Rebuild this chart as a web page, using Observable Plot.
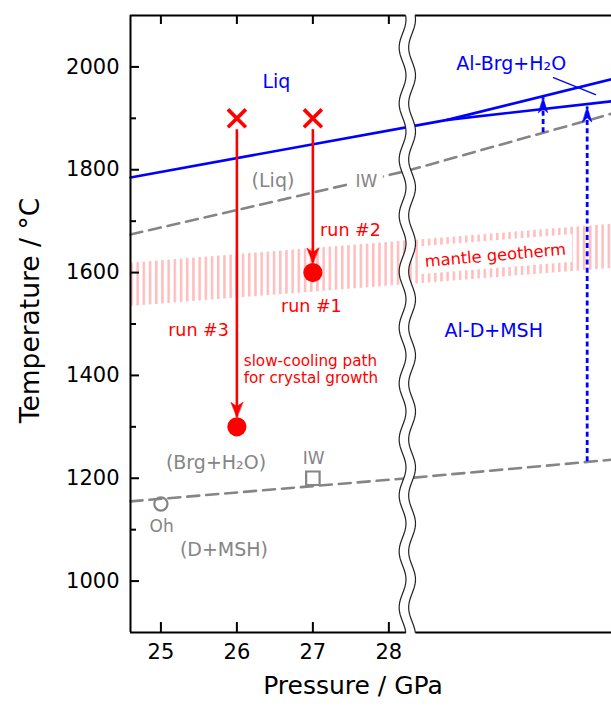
<!DOCTYPE html>
<html><head><meta charset="utf-8">
<script src="https://cdn.jsdelivr.net/npm/d3@7"></script>
<script src="https://cdn.jsdelivr.net/npm/@observablehq/plot@0.6"></script>
<style>html,body{margin:0;padding:0;background:#fff;} #chart svg{display:block;}</style>
</head><body><div id="chart"></div>
<script>
// ---------- axes ----------
const xTicks = [25, 26, 27, 28];
const yMajorTicks = [1000, 1200, 1400, 1600, 1800, 2000];
const yMinorTicks = [1100, 1300, 1500, 1700, 1900];
const pressureRange = [24.6, 30.93];
const temperatureRange = [900, 2100];
const axisBreakP = 28.243;
const xTitle = "Pressure / GPa";
const yTitle = "Temperature / °C";

// ---------- phase boundaries (P in GPa, T in °C) ----------
const liqLowerP = [24.6, 28.77, 30.93];
const liqLowerT = [1785, 1897, 1933];
const liqUpperP = [28.77, 30.93];
const liqUpperT = [1897, 1976];
const iwUpperP = [24.6, 28.243, 30.93];
const iwUpperT = [1674, 1798, 1909];
const iwLowerP = [24.6, 28.243, 30.93];
const iwLowerT = [1155, 1200, 1236];

// ---------- mantle geotherm band ----------
const geothermP = [24.6, 30.93];
const geothermLow = [1534, 1608];
const geothermHigh = [1618, 1694];
const geoLabelBoxP = [28.39, 30.42];
const geoLabelBoxLow = [1596, 1620];
const geoLabelBoxHigh = [1650, 1674];

// ---------- experimental runs ----------
const runP = [26, 27];
const runStartT = [1900, 1900];
const runPathTopT = [1878, 1878];
const runEndT = [1300, 1600];
const runHeadTipT = [1318.5, 1618.5];

// ---------- blue stability arrows ----------
const stabArrowP = [30.03, 30.61];
const stabArrowFromT = [1872, 1232];
const stabArrowToT = [1940, 1922];
const leaderP = [30.166, 30.72];
const leaderT = [1979, 1946];

// ---------- reference buffers ----------
const ohP = [25], ohT = [1150];
const iwRefP = [27], iwRefT = [1200];

// ---------- labels ----------
const blueLabels = ["Liq", "Al-Brg+H₂O", "Al-D+MSH"];
const blueLabelP = [26.52, 29.61, 29.38];
const blueLabelT = [1970, 2006, 1487];
const grayBigLabels = ["(Liq)", "(Brg+H₂O)", "(D+MSH)"];
const grayBigP = [26.475, 25.725, 25.83];
const grayBigT = [1778, 1230, 1060];
const graySmallLabels = ["IW", "Oh"];
const graySmallP = [27.01, 25.01];
const graySmallT = [1238, 1106];
const iwLineLabel = ["IW"], iwLineP = [27.705], iwLineT = [1777];
const runLabels = ["run #2", "run #1", "run #3"];
const runLabelP = [27.495, 26.98, 25.495];
const runLabelT = [1683, 1535, 1487];
const noteText = ["slow-cooling path\nfor crystal growth"];
const noteP = [26.09];
const noteT = [1413];
const geoLabel = ["mantle geotherm"], geoLabelP = [29.40], geoLabelT = [1633];

// ---------- colours ----------
const RED = "#ff0000", BLUE = "#0000ff", GRAY = "#858585";
const FONT = "'DejaVu Sans', 'Liberation Sans', Arial, sans-serif";

const zip = (P, T) => P.map((p, i) => ({P: p, T: T[i]}));
const labelRows = (txt, P, T) => txt.map((t, i) => ({text: t, P: P[i], T: T[i]}));

const geoRows = geothermP.map((p, i) => ({P: p, lo: geothermLow[i], hi: geothermHigh[i]}));
const geoBoxRows = geoLabelBoxP.map((p, i) => ({P: p, lo: geoLabelBoxLow[i], hi: geoLabelBoxHigh[i]}));
const runRows = runP.map((p, i) => ({P: p, top: runPathTopT[i], start: runStartT[i], end: runEndT[i], tip: runHeadTipT[i]}));
const stabRows = stabArrowP.map((p, i) => ({P: p, from: stabArrowFromT[i], to: stabArrowToT[i]}));

// arrowhead (stealth) shape for vectors
const stealth = {
  draw(ctx, l, r) {
    ctx.moveTo(0, -l);
    ctx.lineTo(r, 0);
    ctx.lineTo(0, -l * 0.28);
    ctx.lineTo(-r, 0);
    ctx.closePath();
  }
};
// axis break: two wavy lines
const WAVE_A = 3.4, WAVE_L = 56, WAVE_PH = 1.907, WAVE_GAP = 4.75;
function waveX(c, t) { return c + WAVE_A * Math.sin(2 * Math.PI * t / WAVE_L + WAVE_PH); }
const waveStroke = {
  draw(ctx, l) {
    for (const c of [-WAVE_GAP, WAVE_GAP]) {
      ctx.moveTo(waveX(c, 0), 0);
      for (let t = 1; t <= l; t++) ctx.lineTo(waveX(c, t), -t);
    }
  }
};
const waveFill = {
  draw(ctx, l) {
    ctx.moveTo(waveX(-WAVE_GAP, -3), 3);
    for (let t = -2; t <= l + 3; t++) ctx.lineTo(waveX(-WAVE_GAP, t), -t);
    for (let t = l + 3; t >= -3; t--) ctx.lineTo(waveX(WAVE_GAP, t), -t);
    ctx.closePath();
  }
};

const W = 611, H = 706, MT = 15, MB = 74, ML = 130, MR = 0;
const innerH = H - MT - MB, innerW = W - ML - MR;

const plot = Plot.plot({
  width: W, height: H,
  marginTop: MT, marginBottom: MB, marginLeft: ML, marginRight: MR,
  style: {fontFamily: FONT, background: "#fff", overflow: "visible"},
  x: {domain: pressureRange},
  y: {domain: temperatureRange},
  marks: [
    // mantle geotherm band
    Plot.areaY(geoRows, {x: "P", y1: "lo", y2: "hi", fill: "url(#geoStripes)"}),
    Plot.areaY(geoBoxRows, {x: "P", y1: "lo", y2: "hi", fill: "#fff"}),
    // IW buffers
    Plot.line(zip(iwUpperP, iwUpperT), {x: "P", y: "T", stroke: GRAY, strokeWidth: 2.6, strokeDasharray: "12,7"}),
    Plot.line(zip(iwLowerP, iwLowerT), {x: "P", y: "T", stroke: GRAY, strokeWidth: 2.6, strokeDasharray: "12,7"}),
    // liquidus / Al-Brg+H2O
    Plot.line(zip(liqLowerP, liqLowerT), {x: "P", y: "T", stroke: BLUE, strokeWidth: 2.6}),
    Plot.line(zip(liqUpperP, liqUpperT), {x: "P", y: "T", stroke: BLUE, strokeWidth: 2.6}),
    Plot.line(zip(leaderP, leaderT), {x: "P", y: "T", stroke: BLUE, strokeWidth: 1.3}),
    // blue dotted arrows
    Plot.ruleX(stabRows, {x: "P", y1: "from", y2: "to", stroke: BLUE, strokeWidth: 2.8, strokeDasharray: "5,3.2"}),
    Plot.vector(stabRows, {x: "P", y: "to", length: 15, r: 4.6, rotate: 0, anchor: "end", shape: stealth, fill: BLUE, stroke: BLUE, strokeWidth: 0.6}),
    // red run paths
    Plot.ruleX(runRows, {x: "P", y1: "top", y2: "tip", stroke: RED, strokeWidth: 2.6}),
    Plot.vector(runRows, {x: "P", y: "tip", length: 15, r: 6, rotate: 180, anchor: "end", shape: stealth, fill: RED, stroke: RED, strokeWidth: 0.6}),
    Plot.dot(runRows, {x: "P", y: "start", symbol: "times", r: 8.2, stroke: RED, strokeWidth: 3.6}),
    Plot.dot(runRows, {x: "P", y: "end", r: 9.6, fill: RED, stroke: "none"}),
    // reference markers
    Plot.dot(zip(ohP, ohT), {x: "P", y: "T", r: 6.6, stroke: GRAY, strokeWidth: 2.2, fill: "none"}),
    Plot.dot(zip(iwRefP, iwRefT), {x: "P", y: "T", symbol: "square", r: 7.6, stroke: GRAY, strokeWidth: 2.2, fill: "none"}),
    // labels
    Plot.text(labelRows(blueLabels, blueLabelP, blueLabelT), {x: "P", y: "T", text: "text", fill: BLUE, fontSize: 19}),
    Plot.text(labelRows(grayBigLabels, grayBigP, grayBigT), {x: "P", y: "T", text: "text", fill: GRAY, fontSize: 19}),
    Plot.text(labelRows(graySmallLabels, graySmallP, graySmallT), {x: "P", y: "T", text: "text", fill: GRAY, fontSize: 17}),
    Plot.text(labelRows(iwLineLabel, iwLineP, iwLineT), {x: "P", y: "T", text: "text", fill: GRAY, fontSize: 17, stroke: "#fff", strokeWidth: 13}),
    Plot.text(labelRows(runLabels, runLabelP, runLabelT), {x: "P", y: "T", text: "text", fill: RED, fontSize: 17.5}),
    Plot.text(labelRows(noteText, noteP, noteT), {x: "P", y: "T", text: "text", fill: RED, fontSize: 15.2, textAnchor: "start", lineHeight: 1.18}),
    Plot.text(labelRows(geoLabel, geoLabelP, geoLabelT), {x: "P", y: "T", text: "text", fill: RED, fontSize: 16.3, rotate: -5}),
    // frame
    Plot.ruleX([pressureRange[0]], {stroke: "#000", strokeWidth: 2}),
    Plot.ruleY(temperatureRange, {stroke: "#000", strokeWidth: 2}),
    // inward ticks
    Plot.ruleX(xTicks, {stroke: "#000", strokeWidth: 2, insetTop: innerH - 10}),
    Plot.ruleX(xTicks, {stroke: "#000", strokeWidth: 2, insetBottom: innerH - 9}),
    Plot.ruleY(yMajorTicks, {stroke: "#000", strokeWidth: 2, insetRight: innerW - 9}),
    Plot.ruleY(yMinorTicks, {stroke: "#000", strokeWidth: 2, insetRight: innerW - 6}),
    // tick labels
    Plot.axisX({ticks: xTicks, tickSize: 0, tickPadding: 12, fontSize: 21, label: null, tickFormat: "d"}),
    Plot.axisY({ticks: yMajorTicks, tickSize: 0, tickPadding: 11, fontSize: 21, label: null, tickFormat: "d"}),
    // axis titles
    Plot.text([xTitle], {frameAnchor: "bottom", dx: -18, dy: 61, fontSize: 25, fill: "#000", textAnchor: "middle"}),
    Plot.text([yTitle], {frameAnchor: "left", dx: -100, dy: -13.5, rotate: -90, fontSize: 26.5, fill: "#000", textAnchor: "middle"}),
    // axis break
    Plot.vector([axisBreakP], {x: d => d, y: temperatureRange[0], length: innerH, rotate: 0, anchor: "start", shape: waveFill, fill: "#fff", stroke: "none"}),
    Plot.vector([axisBreakP], {x: d => d, y: temperatureRange[0], length: innerH, rotate: 0, anchor: "start", shape: waveStroke, fill: "none", stroke: "#222", strokeWidth: 1.2})
  ]
});

// stripe pattern for the geotherm band
const ns = "http://www.w3.org/2000/svg";
const defs = document.createElementNS(ns, "defs");
const pat = document.createElementNS(ns, "pattern");
pat.setAttribute("id", "geoStripes");
pat.setAttribute("patternUnits", "userSpaceOnUse");
pat.setAttribute("width", "6.2");
pat.setAttribute("height", "20");
const rect = document.createElementNS(ns, "rect");
rect.setAttribute("x", "0");
rect.setAttribute("y", "0");
rect.setAttribute("width", "2.5");
rect.setAttribute("height", "20");
rect.setAttribute("fill", "#ffbdbd");
pat.appendChild(rect);
defs.appendChild(pat);
plot.insertBefore(defs, plot.firstChild);

document.getElementById("chart").appendChild(plot);
</script>
</body></html>
